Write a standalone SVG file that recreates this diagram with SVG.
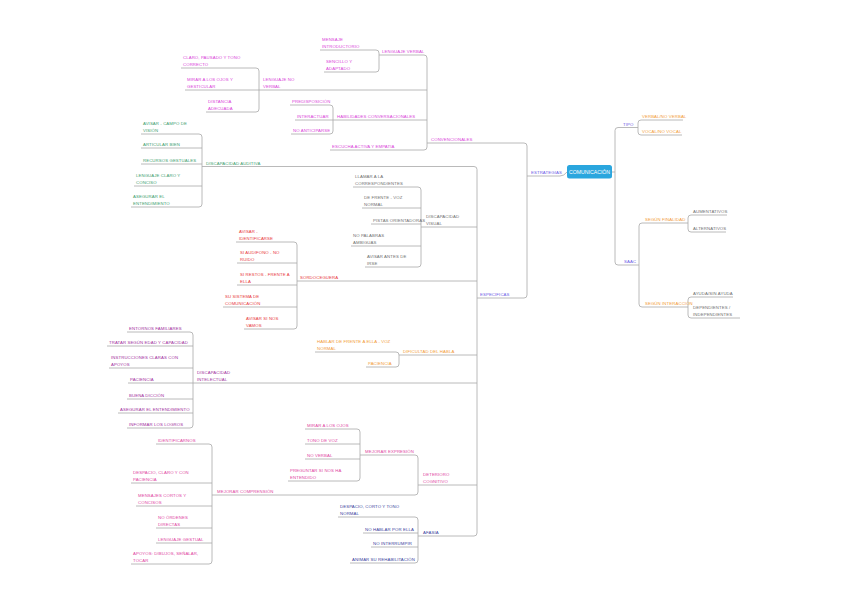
<svg xmlns="http://www.w3.org/2000/svg" width="848" height="599" viewBox="0 0 848 599">
<style>
text{font-family:"Liberation Sans",Arial,sans-serif;font-size:4.3px;letter-spacing:0.1px}
.pk{fill:#d93fd9}.gr{fill:#3e9e6e}.gy{fill:#707070}.rd{fill:#e8383d}.or{fill:#f29b38}
.pu{fill:#a2309e}.pb{fill:#e0469f}.bl{fill:#3b3f9e}.vi{fill:#6c5de6}
.u,.c{stroke:#a8a8a8;stroke-width:0.8;fill:none}
</style>
<rect width="848" height="599" fill="#ffffff"/>
<g id="connectors">
<path class="c" d="M612 172H615"/>
<path class="c" d="M560 176Q564 176 567 172"/>
<path class="c" d="M618 127.5Q615 127.5 615 130.5V262Q615 265 618 265"/>
<path class="c" d="M641 120Q638 120 638 123V132Q638 135 641 135"/>
<path class="c" d="M642 223Q639 223 639 226V304Q639 307 642 307"/>
<path class="c" d="M691 215Q688 215 688 218V229Q688 232 691 232"/>
<path class="c" d="M691 297Q688 297 688 300V315Q688 318 691 318"/>
<path class="c" d="M524 143Q527 143 527 146V295Q527 298 524 298"/>
<path class="c" d="M424 55Q427 55 427 58V147Q427 150 424 150"/>
<path class="c" d="M376 50Q379 50 379 53V69Q379 72 376 72"/>
<path class="c" d="M256 68Q259 68 259 71V109Q259 112 256 112"/>
<path class="c" d="M330 105Q333 105 333 108V131Q333 134 330 134"/>
<path class="c" d="M474 166.5Q477 166.5 477 169.5V533Q477 536 474 536"/>
<path class="c" d="M199 134Q202 134 202 137V204Q202 207 199 207"/>
<path class="c" d="M418 187Q421 187 421 190V264Q421 267 418 267"/>
<path class="c" d="M294 242Q297 242 297 245V326Q297 329 294 329"/>
<path class="c" d="M396 352Q399 352 399 355V364Q399 367 396 367"/>
<path class="c" d="M190 332Q193 332 193 335V425Q193 428 190 428"/>
<path class="c" d="M415 455Q418 455 418 458V492Q418 495 415 495"/>
<path class="c" d="M357 429Q360 429 360 432V478Q360 481 357 481"/>
<path class="c" d="M209 444Q212 444 212 447V561Q212 564 209 564"/>
<path class="c" d="M415 517Q418 517 418 520V560Q418 563 415 563"/>
</g>
<g id="n-comunicacion"><rect x="567" y="165" width="45" height="13.5" rx="2.5" fill="#2aa6de"/><text x="589.5" y="173.6" text-anchor="middle" style="font-size:5.2px;fill:#fff;letter-spacing:0">COMUNICACIÓN</text></g>
<g id="n-tipo"><text class="vi" x="623" y="125.5">TIPO</text><path class="u" d="M618 127.5H638"/></g>
<g id="n-verbal"><text class="or" x="642" y="118">VERBAL/NO VERBAL</text><path class="u" d="M641 120H683"/></g>
<g id="n-vocal"><text class="or" x="642" y="133">VOCAL/NO VOCAL</text><path class="u" d="M641 135H682"/></g>
<g id="n-saac"><text class="vi" x="624" y="263">SAAC</text><path class="u" d="M618 265H639"/></g>
<g id="n-finalidad"><text class="or" x="645" y="221">SEGÚN FINALIDAD</text><path class="u" d="M642 223H688"/></g>
<g id="n-aumentativos"><text class="gy" x="693" y="213">AUMENTATIVOS</text><path class="u" d="M691 215H727"/></g>
<g id="n-alternativos"><text class="gy" x="693" y="230">ALTERNATIVOS</text><path class="u" d="M691 232H726"/></g>
<g id="n-interaccion"><text class="or" x="645" y="305">SEGÚN INTERACCIÓN</text><path class="u" d="M642 307H688"/></g>
<g id="n-ayuda"><text class="gy" x="693" y="295">AYUDA/SIN AYUDA</text><path class="u" d="M691 297H733"/></g>
<g id="n-dependientes"><text class="gy" x="693" y="309"><tspan x="693">DEPENDIENTES /</tspan><tspan x="693" dy="7">INDEPENDIENTES</tspan></text><path class="u" d="M691 318H740"/></g>
<g id="n-estrategias"><text class="vi" x="531" y="174">ESTRATEGIAS</text><path class="u" d="M527 176H560"/></g>
<g id="n-convencionales"><text class="pk" x="431" y="141">CONVENCIONALES</text><path class="u" d="M427 143H524"/></g>
<g id="n-especificas"><text class="vi" x="480" y="296">ESPECÍFICAS</text><path class="u" d="M477 298H524"/></g>
<g id="n-lverbal"><text class="pk" x="382" y="53">LENGUAJE VERBAL</text><path class="u" d="M379 55H424"/></g>
<g id="n-mensaje"><text class="pk" x="322" y="41"><tspan x="322">MENSAJE</tspan><tspan x="322" dy="7">INTRODUCTORIO</tspan></text><path class="u" d="M320 50H376"/></g>
<g id="n-sencillo"><text class="pk" x="326" y="63"><tspan x="326">SENCILLO Y</tspan><tspan x="326" dy="7">ADAPTADO</tspan></text><path class="u" d="M324 72H376"/></g>
<g id="n-lnoverbal"><text class="pk" x="263" y="81"><tspan x="263">LENGUAJE NO</tspan><tspan x="263" dy="7">VERBAL</tspan></text><path class="u" d="M259 90H427"/></g>
<g id="n-claro"><text class="pk" x="183" y="59"><tspan x="183">CLARO, PAUSADO Y TONO</tspan><tspan x="183" dy="7">CORRECTO</tspan></text><path class="u" d="M181 68H256"/></g>
<g id="n-mirar"><text class="pk" x="187" y="81"><tspan x="187">MIRAR A LOS OJOS Y</tspan><tspan x="187" dy="7">GESTICULAR</tspan></text><path class="u" d="M185 90H259"/></g>
<g id="n-distancia"><text class="pk" x="208" y="103"><tspan x="208">DISTANCIA</tspan><tspan x="208" dy="7">ADECUADA</tspan></text><path class="u" d="M206 112H256"/></g>
<g id="n-habilidades"><text class="pk" x="337" y="118">HABILIDADES CONVERSACIONALES</text><path class="u" d="M333 120H427"/></g>
<g id="n-predisposicion"><text class="pk" x="292" y="103">PREDISPOSICIÓN</text><path class="u" d="M290 105H330"/></g>
<g id="n-interactuar"><text class="pk" x="297" y="118">INTERACTUAR</text><path class="u" d="M295 120H333"/></g>
<g id="n-noanticiparse"><text class="pk" x="293" y="132">NO ANTICIPARSE</text><path class="u" d="M291 134H330"/></g>
<g id="n-escucha"><text class="pk" x="332" y="148">ESCUCHA ACTIVA Y EMPATÍA</text><path class="u" d="M330 150H424"/></g>
<g id="n-dauditiva"><text class="gr" x="206" y="164.5">DISCAPACIDAD AUDITIVA</text><path class="u" d="M202 166.5H474"/></g>
<g id="n-avisarcampo"><text class="gr" x="143" y="125"><tspan x="143">AVISAR - CAMPO DE</tspan><tspan x="143" dy="7">VISIÓN</tspan></text><path class="u" d="M141 134H199"/></g>
<g id="n-articular"><text class="gr" x="143" y="146">ARTICULAR BIEN</text><path class="u" d="M141 148H202"/></g>
<g id="n-recursos"><text class="gr" x="143" y="162">RECURSOS GESTUALES</text><path class="u" d="M141 164H202"/></g>
<g id="n-lclaro"><text class="gr" x="136" y="177"><tspan x="136">LENGUAJE CLARO Y</tspan><tspan x="136" dy="7">CONCISO</tspan></text><path class="u" d="M134 186H202"/></g>
<g id="n-asegurar"><text class="gr" x="133" y="198"><tspan x="133">ASEGURAR EL</tspan><tspan x="133" dy="7">ENTENDIMIENTO</tspan></text><path class="u" d="M131 207H199"/></g>
<g id="n-dvisual"><text class="gy" x="426" y="218"><tspan x="426">DISCAPACIDAD</tspan><tspan x="426" dy="7">VISUAL</tspan></text><path class="u" d="M421 227H477"/></g>
<g id="n-llamar"><text class="gy" x="355" y="178"><tspan x="355">LLAMAR A LA</tspan><tspan x="355" dy="7">CORRESPONDIENTES</tspan></text><path class="u" d="M353 187H418"/></g>
<g id="n-defrente"><text class="gy" x="364" y="199"><tspan x="364">DE FRENTE - VOZ</tspan><tspan x="364" dy="7">NORMAL</tspan></text><path class="u" d="M362 208H421"/></g>
<g id="n-pistas"><text class="gy" x="373" y="222">PISTAS ORIENTADORAS</text><path class="u" d="M371 224H421"/></g>
<g id="n-nopalabras"><text class="gy" x="353" y="237"><tspan x="353">NO PALABRAS</tspan><tspan x="353" dy="7">AMBIGUAS</tspan></text><path class="u" d="M351 246H421"/></g>
<g id="n-avisarantes"><text class="gy" x="367" y="258"><tspan x="367">AVISAR ANTES DE</tspan><tspan x="367" dy="7">IRSE</tspan></text><path class="u" d="M365 267H418"/></g>
<g id="n-sordoceguera"><text class="rd" x="300" y="279">SORDOCEGUERA</text><path class="u" d="M297 281H477"/></g>
<g id="n-avisarid"><text class="rd" x="239" y="233"><tspan x="239">AVISAR -</tspan><tspan x="239" dy="7">IDENTIFICARSE</tspan></text><path class="u" d="M236 242H294"/></g>
<g id="n-audifono"><text class="rd" x="240" y="254"><tspan x="240">SI AUDÍFONO - NO</tspan><tspan x="240" dy="7">RUIDO</tspan></text><path class="u" d="M237 263H297"/></g>
<g id="n-restos"><text class="rd" x="240" y="276"><tspan x="240">SI RESTOS - FRENTE A</tspan><tspan x="240" dy="7">ELLA</tspan></text><path class="u" d="M237 285H297"/></g>
<g id="n-susistema"><text class="rd" x="225" y="298"><tspan x="225">SU SISTEMA DE</tspan><tspan x="225" dy="7">COMUNICACIÓN</tspan></text><path class="u" d="M223 307H297"/></g>
<g id="n-avisarsi"><text class="rd" x="246" y="320"><tspan x="246">AVISAR SI NOS</tspan><tspan x="246" dy="7">VAMOS</tspan></text><path class="u" d="M244 329H294"/></g>
<g id="n-dhabla"><text class="or" x="403" y="353">DIFICULTAD DEL HABLA</text><path class="u" d="M399 355H477"/></g>
<g id="n-hablar"><text class="or" x="317" y="343"><tspan x="317">HABLAR DE FRENTE A ELLA - VOZ</tspan><tspan x="317" dy="7">NORMAL</tspan></text><path class="u" d="M315 352H396"/></g>
<g id="n-paciencia"><text class="or" x="368" y="365">PACIENCIA</text><path class="u" d="M366 367H396"/></g>
<g id="n-dintelectual"><text class="pu" x="197" y="374"><tspan x="197">DISCAPACIDAD</tspan><tspan x="197" dy="7">INTELECTUAL</tspan></text><path class="u" d="M193 383H477"/></g>
<g id="n-entornos"><text class="pu" x="129" y="330">ENTORNOS FAMILIARES</text><path class="u" d="M127 332H190"/></g>
<g id="n-tratar"><text class="pu" x="109" y="344">TRATAR SEGÚN EDAD Y CAPACIDAD</text><path class="u" d="M107 346H193"/></g>
<g id="n-instrucciones"><text class="pu" x="111" y="359"><tspan x="111">INSTRUCCIONES CLARAS CON</tspan><tspan x="111" dy="7">APOYOS</tspan></text><path class="u" d="M109 368H193"/></g>
<g id="n-paciencia2"><text class="pu" x="130" y="381">PACIENCIA</text><path class="u" d="M128 383H193"/></g>
<g id="n-buena"><text class="pu" x="129" y="397">BUENA DICCIÓN</text><path class="u" d="M127 399H193"/></g>
<g id="n-asegurar2"><text class="pu" x="120" y="411">ASEGURAR EL ENTENDIMIENTO</text><path class="u" d="M118 413H193"/></g>
<g id="n-informar"><text class="pu" x="129" y="426">INFORMAR LOS LOGROS</text><path class="u" d="M127 428H190"/></g>
<g id="n-deterioro"><text class="pb" x="423" y="476"><tspan x="423">DETERIORO</tspan><tspan x="423" dy="7">COGNITIVO</tspan></text><path class="u" d="M418 485H477"/></g>
<g id="n-mexpresion"><text class="pb" x="365" y="453">MEJORAR EXPRESIÓN</text><path class="u" d="M360 455H415"/></g>
<g id="n-mirarojos"><text class="pb" x="307" y="427">MIRAR A LOS OJOS</text><path class="u" d="M305 429H357"/></g>
<g id="n-tono"><text class="pb" x="307" y="442">TONO DE VOZ</text><path class="u" d="M305 444H360"/></g>
<g id="n-noverbal"><text class="pb" x="307" y="457">NO VERBAL</text><path class="u" d="M305 459H360"/></g>
<g id="n-preguntar"><text class="pb" x="290" y="472"><tspan x="290">PREGUNTAR SI NOS HA</tspan><tspan x="290" dy="7">ENTENDIDO</tspan></text><path class="u" d="M288 481H357"/></g>
<g id="n-mcomprension"><text class="pb" x="217" y="493">MEJORAR COMPRENSIÓN</text><path class="u" d="M212 495H415"/></g>
<g id="n-identificarnos"><text class="pb" x="158" y="442">IDENTIFICARNOS</text><path class="u" d="M156 444H209"/></g>
<g id="n-despacio"><text class="pb" x="133" y="474"><tspan x="133">DESPACIO, CLARO Y CON</tspan><tspan x="133" dy="7">PACIENCIA</tspan></text><path class="u" d="M131 483H212"/></g>
<g id="n-mensajes"><text class="pb" x="138" y="497"><tspan x="138">MENSAJES CORTOS Y</tspan><tspan x="138" dy="7">CONCISOS</tspan></text><path class="u" d="M136 506H212"/></g>
<g id="n-noordenes"><text class="pb" x="158" y="519"><tspan x="158">NO ÓRDENES</tspan><tspan x="158" dy="7">DIRECTAS</tspan></text><path class="u" d="M156 528H212"/></g>
<g id="n-lgestual"><text class="pb" x="158" y="541">LENGUAJE GESTUAL</text><path class="u" d="M156 543H212"/></g>
<g id="n-apoyos"><text class="pb" x="133" y="555"><tspan x="133">APOYOS: DIBUJOS, SEÑALAR,</tspan><tspan x="133" dy="7">TOCAR</tspan></text><path class="u" d="M131 564H209"/></g>
<g id="n-afasia"><text class="bl" x="423" y="534">AFASIA</text><path class="u" d="M418 536H474"/></g>
<g id="n-despacio2"><text class="bl" x="340" y="508"><tspan x="340">DESPACIO, CORTO Y TONO</tspan><tspan x="340" dy="7">NORMAL</tspan></text><path class="u" d="M338 517H415"/></g>
<g id="n-nohablar"><text class="bl" x="365" y="531">NO HABLAR POR ELLA</text><path class="u" d="M363 533H418"/></g>
<g id="n-nointerrumpir"><text class="bl" x="373" y="545">NO INTERRUMPIR</text><path class="u" d="M371 547H418"/></g>
<g id="n-animar"><text class="bl" x="352" y="561">ANIMAR SU REHABILITACIÓN</text><path class="u" d="M350 563H415"/></g>
</svg>
